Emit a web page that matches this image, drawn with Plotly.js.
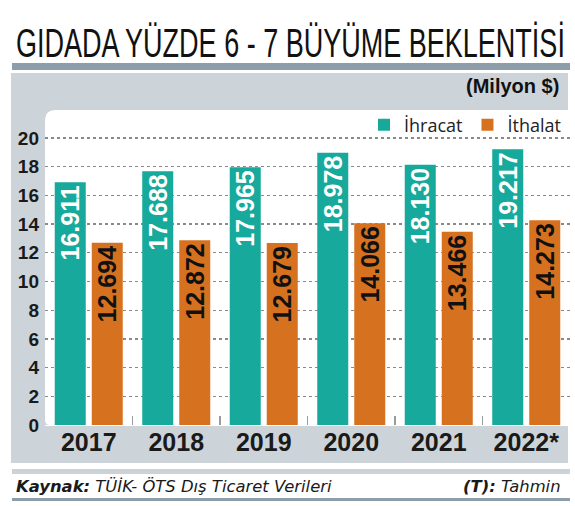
<!DOCTYPE html>
<html>
<head>
<meta charset="utf-8">
<script src="https://cdn.plot.ly/plotly-3.0.1.min.js"></script>
<style>
html,body{margin:0;padding:0;background:#fff;}
#chart{width:575px;height:506px;}
</style>
</head>
<body>
<div id="chart"></div>
<script>
// ---- data ----
const years = ['2017', '2018', '2019', '2020', '2021', '2022*'];
const ihracat = [16.911, 17.688, 17.965, 18.978, 18.130, 19.217];
const ithalat = [12.694, 12.872, 12.679, 14.066, 13.466, 14.273];
const seriesNames = ['İhracat', 'İthalat'];
const titleText = 'GIDADA YÜZDE 6 - 7 BÜYÜME BEKLENTİSİ';
const unitText = '(Milyon $)';
const sourceText = '<b>Kaynak:</b> TÜİK- ÖTS Dış Ticaret Verileri';
const noteText = '<b>(T):</b> Tahmin';

// ---- layout geometry ----
const W = 575, H = 506;
const M = {l: 45, r: 5, t: 110, b: 81};
const PW = W - M.l - M.r, PH = H - M.t - M.b;
const fx = x => (x - M.l) / PW;
const fy = y => (H - M.b - y) / PH;

const teal = '#17a99b', orange = '#d6721f';
const narrow = 'Liberation Sans Narrow, Arial Narrow, sans-serif';
const sans = 'Open Sans, Noto Sans, sans-serif';
const foot = 'DejaVu Sans, Verdana, sans-serif';

function rect(x0, y0, x1, y1, color) {
  return {type: 'rect', xref: 'paper', yref: 'paper', x0: fx(x0), x1: fx(x1), y0: fy(y1), y1: fy(y0),
          fillcolor: color, line: {width: 0}, layer: 'below'};
}
// white plot panel with rounded left corners
const r1 = 11, r2 = 5;
const wpath = 'M ' + fx(45 + r1) + ',' + fy(110) +
  ' L ' + fx(570) + ',' + fy(110) +
  ' L ' + fx(570) + ',' + fy(425) +
  ' L ' + fx(45 + r2) + ',' + fy(425) +
  ' Q ' + fx(45) + ',' + fy(425) + ' ' + fx(45) + ',' + fy(425 - r2) +
  ' L ' + fx(45) + ',' + fy(110 + r1) +
  ' Q ' + fx(45) + ',' + fy(110) + ' ' + fx(45 + r1) + ',' + fy(110) + ' Z';

const shapes = [
  rect(12, 63, 570, 70, '#8d9da9'),
  rect(11, 73, 568, 463, '#cdd4d9'),
  {type: 'path', xref: 'paper', yref: 'paper', path: wpath, fillcolor: '#ffffff', line: {width: 0}, layer: 'below'},
  rect(12, 469, 570, 474, '#cbd3d9'),
  rect(12, 498, 570, 501, '#8d9da9')
];

const labelFmt = v => v.toFixed(3);

const traces = [
  {type: 'bar', name: seriesNames[0], x: years, y: ihracat, text: ihracat.map(labelFmt),
   marker: {color: teal}, textposition: 'inside', insidetextanchor: 'end', textangle: -90,
   constraintext: 'none', cliponaxis: false,
   insidetextfont: {family: narrow, size: 25, weight: 'bold', color: '#ffffff'}, hoverinfo: 'none'},
  {type: 'bar', name: seriesNames[1], x: years, y: ithalat, text: ithalat.map(labelFmt),
   marker: {color: orange}, textposition: 'inside', insidetextanchor: 'end', textangle: -90,
   constraintext: 'none', cliponaxis: false,
   insidetextfont: {family: narrow, size: 25, weight: 'bold', color: '#111111'}, hoverinfo: 'none'}
];

const layout = {
  width: W, height: H,
  margin: M,
  paper_bgcolor: '#ffffff',
  plot_bgcolor: 'rgba(0,0,0,0)',
  barmode: 'group', bargap: 0.154, bargroupgap: 0.162,
  showlegend: true,
  legend: {orientation: 'h', x: fx(566), xanchor: 'right', y: fy(125), yanchor: 'middle',
           bgcolor: 'rgba(0,0,0,0)', font: {family: sans, size: 18, color: '#222'},
           itemclick: false, itemdoubleclick: false, tracegroupgap: 0},
  title: {text: titleText, x: 16 / W, xanchor: 'left', xref: 'container',
          y: 1 - 43 / H, yanchor: 'middle', yref: 'container',
          font: {family: narrow, size: 40, weight: 'normal', color: '#111'}},
  xaxis: {type: 'category', categoryorder: 'array', categoryarray: years,
          tickson: 'boundaries', ticks: 'inside', ticklen: 9, tickwidth: 1.5, tickcolor: '#9a9a9a',
          showline: false, showgrid: false, zeroline: false,
          tickfont: {family: narrow, size: 25, weight: 'bold', color: '#1a1a1a'}, fixedrange: true},
  yaxis: {range: [0, 21.95], tick0: 0, dtick: 2, showgrid: true, gridcolor: '#8a8a8a',
          griddash: '3px,3px', gridwidth: 1.3, zeroline: true, zerolinecolor: '#ffffff', zerolinewidth: 1,
          showline: false, ticks: '', ticklabelstandoff: 5,
          tickfont: {family: narrow, size: 19, weight: 'bold', color: '#1a1a1a'}, fixedrange: true},
  shapes: shapes,
  annotations: [
    {text: unitText, xref: 'paper', yref: 'paper', x: fx(561), xanchor: 'right', y: fy(86), yanchor: 'middle',
     showarrow: false, font: {family: narrow, size: 20, weight: 'bold', color: '#111'}},
    {text: sourceText, xref: 'paper', yref: 'paper', x: fx(14), xanchor: 'left', y: fy(486), yanchor: 'middle',
     showarrow: false, font: {family: foot, size: 16.4, style: 'italic', color: '#1a1a1a'}},
    {text: noteText, xref: 'paper', yref: 'paper', x: fx(563), xanchor: 'right', y: fy(486), yanchor: 'middle',
     showarrow: false, font: {family: foot, size: 16.4, style: 'italic', color: '#1a1a1a'}}
  ]
};

Plotly.newPlot('chart', traces, layout, {staticPlot: true, displayModeBar: false}).then(function () {
  const t = document.querySelector('.gtitle');
  if (t) {
    const natural = t.getComputedTextLength();
    const target = 549;
    const s = target / natural;
    const x0 = parseFloat(t.getAttribute('x')) || 16;
    t.setAttribute('transform', 'translate(' + x0 + ',0) scale(' + s + ',1) translate(' + (-x0) + ',0)');
  }
});
</script>
</body>
</html>
